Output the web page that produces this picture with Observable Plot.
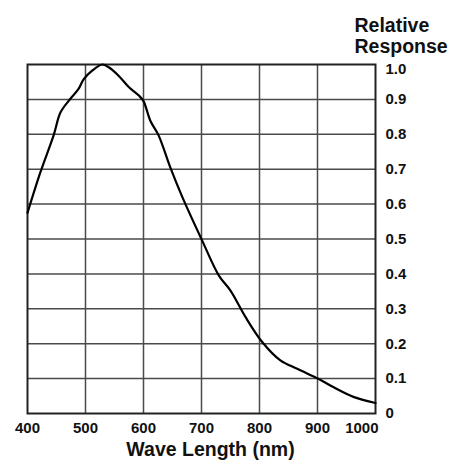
<!DOCTYPE html>
<html><head><meta charset="utf-8">
<script src="https://cdn.jsdelivr.net/npm/d3@7"></script>
<script src="https://cdn.jsdelivr.net/npm/@observablehq/plot@0.6"></script>
<style>html,body{margin:0;padding:0;background:#fff} svg{display:block}</style>
</head><body><div id="chart"></div>
<script>
const wavelength = [400, 422, 445, 457, 474, 488, 497, 512, 529, 540, 557, 575, 592, 600, 612, 626, 646, 667, 701, 730, 750, 776, 805, 836, 865, 902, 928, 963, 1000];
const response   = [0.575, 0.69, 0.797, 0.863, 0.902, 0.93, 0.958, 0.983, 1.0, 0.992, 0.968, 0.935, 0.911, 0.895, 0.838, 0.797, 0.706, 0.62, 0.496, 0.395, 0.352, 0.276, 0.204, 0.152, 0.128, 0.099, 0.075, 0.047, 0.03];
const xTicks = [400, 500, 600, 700, 800, 900, 1000];
const xTickLabels = ["400", "500", "600", "700", "800", "900", "1000"];
const yTicks = [0, 0.1, 0.2, 0.3, 0.4, 0.5, 0.6, 0.7, 0.8, 0.9, 1.0];
const yTickLabels = ["0", "0.1", "0.2", "0.3", "0.4", "0.5", "0.6", "0.7", "0.8", "0.9", "1.0"];
const xTitle = "Wave Length (nm)";
const yTitleLines = ["Relative", "Response"];

const data = wavelength.map((w, i) => ({w, r: response[i]}));
const font = "'Liberation Sans', Arial, Helvetica, sans-serif";
const gridColor = "#4a4a4a";
const yLabel = d => yTickLabels[yTicks.indexOf(d)];
const xLabel = d => xTickLabels[xTicks.indexOf(d)];

const chart = Plot.plot({
  width: 455, height: 465,
  marginLeft: 27, marginRight: 80, marginTop: 64, marginBottom: 52,
  style: {fontFamily: font, fontWeight: "bold", background: "#fff", color: "#111", overflow: "visible"},
  x: {domain: [400, 1000], axis: null},
  y: {domain: [0, 1], axis: null},
  marks: [
    Plot.gridX(xTicks.slice(1, -1), {stroke: gridColor, strokeOpacity: 1, strokeWidth: 1.5}),
    Plot.gridY(yTicks.slice(1, -1), {stroke: gridColor, strokeOpacity: 1, strokeWidth: 1.5}),
    Plot.frame({stroke: "#222", strokeWidth: 2}),
    Plot.line(data, {x: "w", y: "r", stroke: "#000", strokeWidth: 2.2, curve: "catmull-rom"}),
    Plot.text(yTicks.slice(0, -1), {y: d => d, frameAnchor: "right", dx: 10, textAnchor: "start", fontSize: 15, fill: "#111", text: yLabel}),
    Plot.text(yTicks.slice(-1), {y: d => d, frameAnchor: "right", dx: 10, dy: 5, textAnchor: "start", fontSize: 15, fill: "#111", text: yLabel}),
    Plot.text(xTicks.slice(0, -1), {x: d => d, frameAnchor: "bottom", dy: 19, fontSize: 15, fill: "#111", text: xLabel}),
    Plot.text(xTicks.slice(-1), {x: d => d, frameAnchor: "bottom", dy: 19, dx: 3, textAnchor: "end", fontSize: 15, fill: "#111", text: xLabel}),
    Plot.text([xTitle], {text: d => d, frameAnchor: "bottom", dx: 9, dy: 42, fontSize: 19.5, fill: "#111"}),
    Plot.text([yTitleLines[0]], {text: d => d, frameAnchor: "top-right", dx: -21, dy: -46, textAnchor: "start", fontSize: 19.5, fill: "#111"}),
    Plot.text([yTitleLines[1]], {text: d => d, frameAnchor: "top-right", dx: -21, dy: -25, textAnchor: "start", fontSize: 19.5, fill: "#111"})
  ]
});
document.getElementById("chart").appendChild(chart);
</script>
</body></html>
